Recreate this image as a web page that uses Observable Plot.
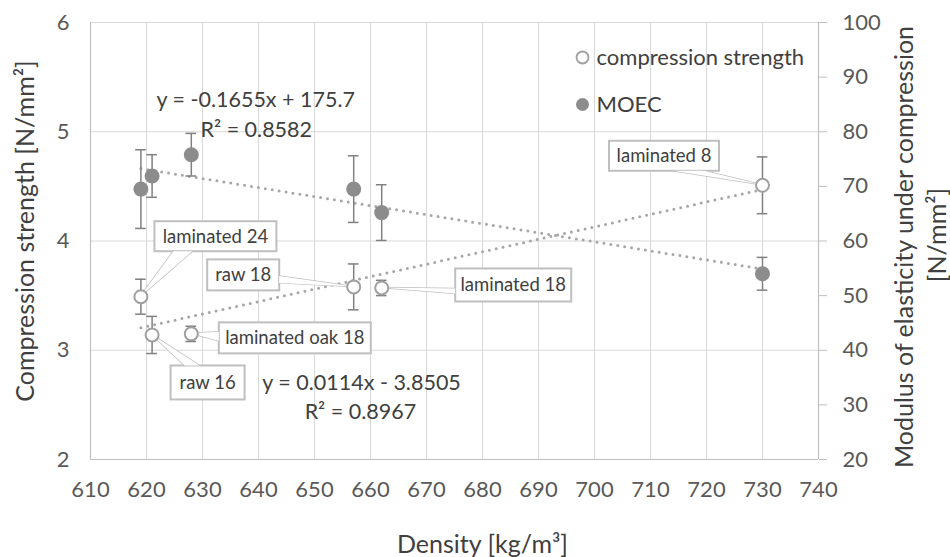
<!DOCTYPE html>
<html>
<head>
<meta charset="utf-8">
<script src="https://cdn.jsdelivr.net/npm/d3@7"></script>
<script src="https://cdn.jsdelivr.net/npm/@observablehq/plot@0.6"></script>
<style>
  html, body { margin: 0; padding: 0; background: #fff; }
  #chart { width: 950px; height: 557px; }
</style>
</head>
<body>
<div id="chart"></div>
<script>
// ---- data ----
const labels = ["laminated 24", "raw 16", "laminated oak 18", "raw 18", "laminated 18", "laminated 8"];
const density = [619, 621, 628, 657, 662, 730];
const strength = [3.49, 3.14, 3.15, 3.58, 3.57, 4.51];
const strengthErr = [0.16, 0.17, 0.07, 0.21, 0.07, 0.26];
const moec = [69.5, 71.9, 75.8, 69.5, 65.2, 54.0];
const moecErr = [7.2, 3.9, 3.9, 6.1, 5.1, 3.0];
const xTicks = [610, 620, 630, 640, 650, 660, 670, 680, 690, 700, 710, 720, 730, 740];
const leftTicks = [2, 3, 4, 5, 6];
const rightTicks = [20, 30, 40, 50, 60, 70, 80, 90, 100];
const trendSlope = [0.0114, -0.1655];
const trendIntercept = [-3.8505, 175.7];
const eqTexts = ["y = -0.1655x + 175.7", "R² = 0.8582", "y = 0.0114x - 3.8505", "R² = 0.8967"];
const seriesNames = ["compression strength", "MOEC"];

// ---- annotation layout (positions in data units / pixel offsets) ----
const eqPos = [[639.5, 5.286], [639.6, 5.011], [658.4, 2.696], [658.2, 2.43]];
const callouts = [
  {dx: 75, dy: -60, w: 122, h: 30, side: "bottom", b0: -42, b1: -23},
  {dx: 56, dy: 48, w: 74, h: 34, side: "top", b0: -23, b1: -8},
  {dx: 104, dy: 4.5, w: 152, h: 31, side: "left", b0: -6, b1: 3},
  {dx: -110, dy: -11.5, w: 72, h: 31, side: "right", b0: 1, b1: 8},
  {dx: 132, dy: -2.5, w: 116, h: 33, side: "left", b0: 3.5, b1: 8.5},
  {dx: -98, dy: -29, w: 110, h: 30, side: "bottom", b0: 9, b1: 40}
];

// right axis (MOEC) mapped onto left scale
const toLeft = v => 2 + (v - 20) / 20;

const pts = labels.map((l, i) => ({
  label: l, x: density[i], s: strength[i], se: strengthErr[i],
  m: toLeft(moec[i]), mlo: toLeft(moec[i] - moecErr[i]), mhi: toLeft(moec[i] + moecErr[i])
}));
const xmin = d3.min(density), xmax = d3.max(density);
const trendS = [xmin, xmax].map(x => ({x, y: trendSlope[0] * x + trendIntercept[0]}));
const trendM = [xmin, xmax].map(x => ({x, y: toLeft(trendSlope[1] * x + trendIntercept[1])}));

const GRID = "#d9d9d9", AXIS = "#bfbfbf", TXT = "#595959", DARK = "#404040";
const OPEN = "#a0a0a0", FILLED = "#8c8c8c", ERR = "#808080", TREND = "#a6a6a6";
const capHalf = 0.95;

function calloutMark(index, scales) {
  const g = d3.create("svg:g");
  pts.forEach((p, i) => {
    const c = callouts[i];
    const px = scales.x(p.x), py = scales.y(p.s);
    const cx = px + c.dx, cy = py + c.dy;
    const l = cx - c.w / 2, r = cx + c.w / 2, t = cy - c.h / 2, b = cy + c.h / 2;
    let a, bb;
    if (c.side === "bottom") { a = [cx + c.b0, b]; bb = [cx + c.b1, b]; }
    else if (c.side === "top") { a = [cx + c.b0, t]; bb = [cx + c.b1, t]; }
    else if (c.side === "left") { a = [l, cy + c.b0]; bb = [l, cy + c.b1]; }
    else { a = [r, cy + c.b0]; bb = [r, cy + c.b1]; }
    const poly = [a, [px, py], bb].map(q => q.join(",")).join(" ");
    g.append("polygon").attr("points", poly).attr("fill", "#fff").attr("stroke", AXIS).attr("stroke-width", 1.5);
    g.append("rect").attr("x", l).attr("y", t).attr("width", c.w).attr("height", c.h)
      .attr("fill", "#fff").attr("stroke", AXIS).attr("stroke-width", 2);
    g.append("polygon").attr("points", poly).attr("fill", "#fff").attr("stroke", "none");
    g.append("text").attr("x", cx).attr("y", cy).attr("dy", "0.35em").attr("text-anchor", "middle")
      .attr("fill", DARK).attr("font-size", 18.5).attr("font-family", "Lato").text(p.label);
  });
  return g.node();
}

const chart = Plot.plot({
  width: 950,
  height: 557,
  marginLeft: 90,
  marginRight: 132,
  marginTop: 22,
  marginBottom: 98,
  x: {domain: [610, 740]},
  y: {domain: [2, 6]},
  style: {fontFamily: "Lato", fontSize: "22px", color: TXT, background: "#fff"},
  marks: [
    Plot.gridX(xTicks, {stroke: GRID, strokeOpacity: 1, strokeWidth: 1}),
    Plot.gridY(leftTicks, {stroke: GRID, strokeOpacity: 1, strokeWidth: 1}),
    Plot.ruleX([610], {stroke: AXIS, strokeWidth: 1.2}),
    Plot.ruleX([740], {stroke: AXIS, strokeWidth: 1.2}),
    Plot.ruleY([2], {stroke: AXIS, strokeWidth: 1.2}),
    Plot.axisX(xTicks, {tickSize: 0, tickPadding: 22, fontSize: 22, fill: TXT, label: null, tickFormat: d => String(d)}),
    Plot.axisY(leftTicks, {anchor: "left", tickSize: 0, tickPadding: 21, fontSize: 22, fill: TXT, label: null, tickFormat: d => String(d)}),
    Plot.axisY(rightTicks.map(toLeft), {anchor: "right", tickSize: 8, tickPadding: 16, stroke: AXIS, fontSize: 22, fill: TXT,
      tickFormat: d => String(Math.round(20 + (d - 2) * 20)), label: null}),
    // axis titles
    Plot.text(["Compression strength [N/mm²]"], {frameAnchor: "left", textAnchor: "middle", lineAnchor: "middle", rotate: -90, dx: -65, dy: -10, fontSize: 25, fill: DARK}),
    Plot.text(["Modulus of elasticity under compression"], {frameAnchor: "right", textAnchor: "middle", lineAnchor: "middle", rotate: -90, dx: 86, dy: 6, fontSize: 25, fill: DARK}),
    Plot.text(["[N/mm²]"], {frameAnchor: "right", textAnchor: "middle", lineAnchor: "middle", rotate: -90, dx: 119, dy: -6, fontSize: 25, fill: DARK}),
    Plot.text(["Density [kg/m³]"], {frameAnchor: "bottom", textAnchor: "middle", lineAnchor: "middle", dx: 28, dy: 85, fontSize: 25, fill: DARK}),
    // trend lines
    Plot.line(trendS, {x: "x", y: "y", stroke: TREND, strokeWidth: 3, strokeDasharray: "0 7", strokeLinecap: "round"}),
    Plot.line(trendM, {x: "x", y: "y", stroke: TREND, strokeWidth: 3, strokeDasharray: "0 7", strokeLinecap: "round"}),
    // equations
    Plot.text(eqTexts, {x: (d, i) => eqPos[i][0], y: (d, i) => eqPos[i][1], fontSize: 21.5, fill: DARK}),
    // callouts
    calloutMark,
    // error bars MOEC
    Plot.ruleX(pts, {x: "x", y1: "mlo", y2: "mhi", stroke: ERR, strokeWidth: 1.5}),
    Plot.ruleY(pts, {y: "mlo", x1: d => d.x - capHalf, x2: d => d.x + capHalf, stroke: ERR, strokeWidth: 1.5}),
    Plot.ruleY(pts, {y: "mhi", x1: d => d.x - capHalf, x2: d => d.x + capHalf, stroke: ERR, strokeWidth: 1.5}),
    // error bars strength
    Plot.ruleX(pts, {x: "x", y1: d => d.s - d.se, y2: d => d.s + d.se, stroke: ERR, strokeWidth: 1.5}),
    Plot.ruleY(pts, {y: d => d.s - d.se, x1: d => d.x - capHalf, x2: d => d.x + capHalf, stroke: ERR, strokeWidth: 1.5}),
    Plot.ruleY(pts, {y: d => d.s + d.se, x1: d => d.x - capHalf, x2: d => d.x + capHalf, stroke: ERR, strokeWidth: 1.5}),
    // points
    Plot.dot(pts, {x: "x", y: "m", r: 7.5, fill: FILLED, stroke: "none"}),
    Plot.dot(pts, {x: "x", y: "s", r: 6.5, fill: "#fff", stroke: OPEN, strokeWidth: 2}),
    // legend
    Plot.dot([seriesNames[0]], {frameAnchor: "top-right", dx: -236, dy: 35, r: 6, fill: "#fff", stroke: OPEN, strokeWidth: 1.8}),
    Plot.dot([seriesNames[1]], {frameAnchor: "top-right", dx: -236, dy: 82, r: 6.5, fill: FILLED, stroke: "none"}),
    Plot.text([seriesNames[0]], {frameAnchor: "top-right", textAnchor: "start", lineAnchor: "middle", dx: -222, dy: 35, fontSize: 22, fill: DARK}),
    Plot.text([seriesNames[1]], {frameAnchor: "top-right", textAnchor: "start", lineAnchor: "middle", dx: -222, dy: 82, fontSize: 22, fill: DARK})
  ]
});
document.getElementById("chart").appendChild(chart);
</script>
</body>
</html>
